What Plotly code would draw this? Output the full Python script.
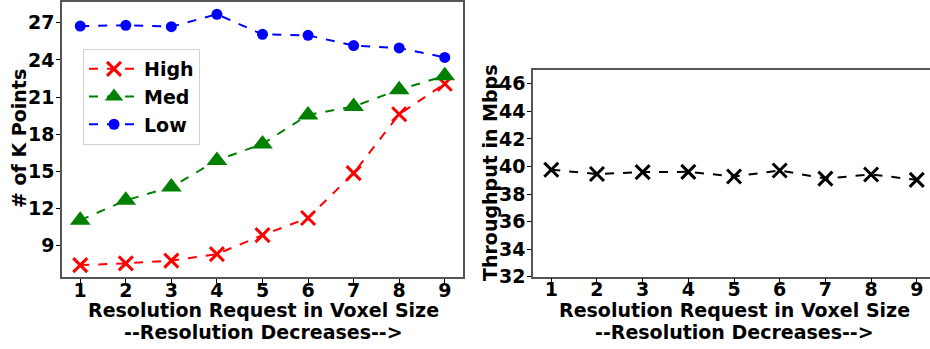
import plotly.graph_objects as go

resolution = [1, 2, 3, 4, 5, 6, 7, 8, 9]
high = [7.44, 7.58, 7.80, 8.33, 9.86, 11.24, 14.86, 19.61, 22.07]
med = [11.06, 12.67, 13.74, 15.89, 17.22, 19.56, 20.24, 21.59, 22.71]
low = [26.73, 26.79, 26.68, 27.68, 26.06, 25.98, 25.15, 24.96, 24.20]
throughput = [39.76, 39.45, 39.59, 39.61, 39.27, 39.71, 39.12, 39.42, 39.03]

left_yticks = [9, 12, 15, 18, 21, 24, 27]
right_yticks = [32, 34, 36, 38, 40, 42, 44, 46]

FONT = "DejaVu Sans"
W, H = 930, 349
spine = "#555555"

fig = go.Figure()

fig.add_trace(go.Scatter(x=resolution, y=high, name="High", mode="lines+markers",
                         line=dict(color="red", dash="dash", width=2),
                         marker=dict(symbol="x-thin-open", size=14, color="red",
                                     line=dict(width=3, color="red")),
                         xaxis="x", yaxis="y"))
fig.add_trace(go.Scatter(x=resolution, y=med, name="Med", mode="lines+markers",
                         line=dict(color="green", dash="dash", width=2),
                         marker=dict(symbol="triangle-up", size=18, color="green"),
                         xaxis="x", yaxis="y"))
fig.add_trace(go.Scatter(x=resolution, y=low, name="Low", mode="lines+markers",
                         line=dict(color="blue", dash="dash", width=2),
                         marker=dict(symbol="circle", size=11, color="blue"),
                         xaxis="x", yaxis="y"))
fig.add_trace(go.Scatter(x=resolution, y=throughput, name="Throughput", mode="lines+markers",
                         showlegend=False,
                         line=dict(color="black", dash="dash", width=2),
                         marker=dict(symbol="x-thin-open", size=14, color="black",
                                     line=dict(width=3, color="black")),
                         xaxis="x2", yaxis="y2"))

tickfont = dict(family=FONT, size=19, color="black", weight="bold")
common_axis = dict(showgrid=False, zeroline=False, showline=True, linecolor=spine,
                   linewidth=1.5, ticks="outside", ticklen=4, tickcolor="black",
                   tickfont=tickfont, automargin=False)
xcommon = dict(common_axis, ticklabelstandoff=-9)
ycommon = dict(common_axis, ticklabelstandoff=-2)

fig.update_layout(
    width=W, height=H,
    margin=dict(l=0, r=0, t=0, b=0, autoexpand=False),
    plot_bgcolor="white", paper_bgcolor="white",
    xaxis=dict(domain=[62 / W, 463 / W], range=[0.6, 9.4], tickvals=resolution,
               mirror=True, anchor="y", **xcommon),
    yaxis=dict(domain=[1 - 277 / H, 1 - 2 / H], range=[6.48, 28.67], tickvals=left_yticks,
               mirror=True, anchor="x", **ycommon),
    xaxis2=dict(domain=[533 / W, 1.0], range=[0.6, 9.29], tickvals=resolution,
                mirror=True, anchor="y2", **xcommon),
    yaxis2=dict(domain=[1 - 276.7 / H, 1 - 70 / H], range=[32, 47], tickvals=right_yticks,
                mirror=False, anchor="x2", **ycommon),
    legend=dict(x=83 / W, y=1 - 49 / H, xanchor="left", yanchor="top",
                bgcolor="white", bordercolor="#d0d0d0", borderwidth=1,
                font=dict(family=FONT, size=19, color="black", weight="bold"),
                itemsizing="trace", itemwidth=50, tracegroupgap=0),
    showlegend=True,
)

ann_font = dict(family=FONT, size=19, color="black", weight="bold")
annotations = [
    dict(text="Resolution Request in Voxel Size", x=263 / W, y=1 - 310 / H),
    dict(text="--Resolution Decreases-->", x=263 / W, y=1 - 332 / H),
    dict(text="Resolution Request in Voxel Size", x=734 / W, y=1 - 310 / H),
    dict(text="--Resolution Decreases-->", x=734 / W, y=1 - 332 / H),
    dict(text="# of K Points", x=19 / W, y=1 - 139 / H, textangle=-90),
    dict(text="Throughput in Mbps", x=490 / W, y=1 - 173 / H, textangle=-90),
]
for a in annotations:
    fig.add_annotation(xref="paper", yref="paper", showarrow=False,
                       xanchor="center", yanchor="middle", font=ann_font, **a)

fig.write_html("out.html")
